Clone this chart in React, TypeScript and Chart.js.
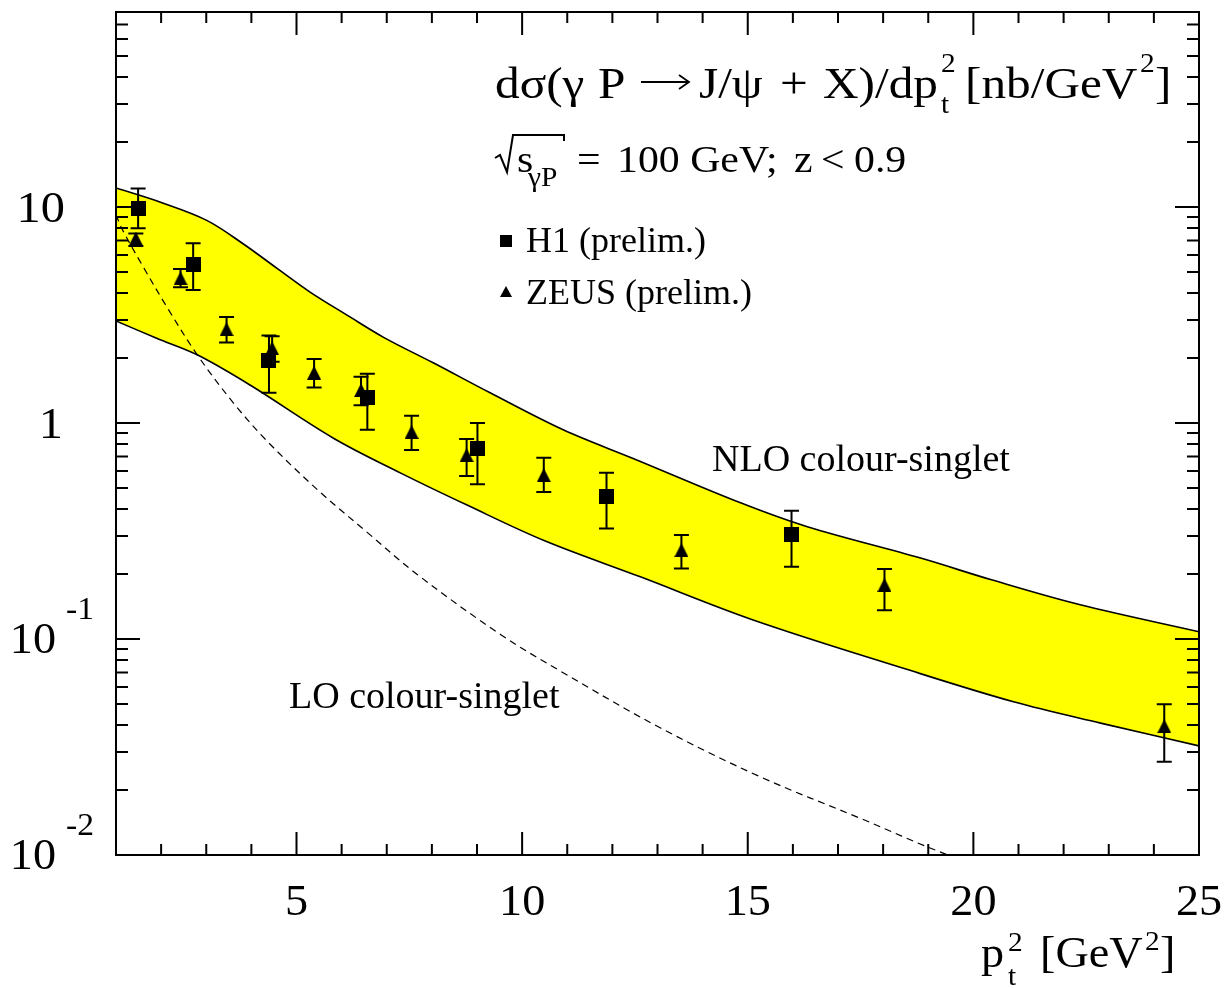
import React, { useEffect, useRef } from 'react';
import { Chart, registerables } from 'chart.js';

Chart.register(...registerables);

// NLO colour-singlet band (upper / lower edge)
const nloUpperX = [1, 2, 3, 3.8, 4.57, 5.3, 6.12, 6.92, 8.03, 9.29, 10.91, 12.5, 14.84, 16.32, 18.83, 20.4, 22.37, 25];
const nloUpperY = [12.25, 10.5, 8.7, 6.8, 5.2, 4.04, 3.16, 2.5, 1.9, 1.38, 0.93, 0.68, 0.427, 0.331, 0.237, 0.188, 0.144, 0.108];
const nloLowerX = [1, 1.9, 2.8, 3.97, 5.81, 7.3, 8.78, 10.5, 12.62, 15.12, 18.43, 20.89, 22.82, 25];
const nloLowerY = [2.97, 2.47, 2.07, 1.5, 0.853, 0.588, 0.417, 0.285, 0.194, 0.1225, 0.0734, 0.0512, 0.0408, 0.032];

// LO colour-singlet (dashed)
const loX = [1.0, 1.15, 1.6, 2.13, 2.8, 3.6, 4.36, 5.47, 6.58, 7.69, 9.52, 10.85, 13.07, 15.28, 17.49, 19.33, 20.5];
const loY = [9.2, 7.8, 5.3, 3.44, 2.07, 1.24, 0.82, 0.49, 0.31, 0.198, 0.105, 0.071, 0.0387, 0.023, 0.0148, 0.0102, 0.0085];

// H1 (prelim.)
const h1X = [1.49, 2.71, 4.39, 6.57, 9.01, 11.87, 15.97];
const h1Y = [9.84, 5.42, 1.94, 1.31, 0.764, 0.457, 0.306];
const h1Hi = [12.2, 6.79, 2.54, 1.69, 1.0, 0.589, 0.393];
const h1Lo = [7.97, 4.13, 1.38, 0.93, 0.52, 0.325, 0.216];

// ZEUS (prelim.)
const zeusX = [1.44, 2.43, 3.45, 4.46, 5.39, 6.43, 7.55, 8.77, 10.48, 13.53, 18.03, 24.23];
const zeusY = [7.15, 4.68, 2.72, 2.22, 1.71, 1.42, 0.91, 0.711, 0.574, 0.258, 0.178, 0.0395];
const zeusHi = [7.55, 5.16, 3.1, 2.52, 1.98, 1.64, 1.08, 0.843, 0.69, 0.303, 0.211, 0.0499];
const zeusLo = [6.6, 4.25, 2.36, 1.92, 1.46, 1.21, 0.75, 0.569, 0.48, 0.212, 0.136, 0.027];

// axis ticks
const xTickValues = [5, 10, 15, 20, 25];
const xTickLabels = ['5', '10', '15', '20', '25'];
const yTickValues = [10, 1, 0.1, 0.01];
const yTickBase = ['10', '1', '10', '10'];
const yTickExp = ['', '', '-1', '-2'];

const FONT = '"Liberation Serif", "Times New Roman", serif';

function drawText(
  ctx: CanvasRenderingContext2D,
  t: string,
  x: number,
  y: number,
  size: number,
  sx = 1,
  align: CanvasTextAlign = 'left'
) {
  ctx.save();
  ctx.font = `${size}px ${FONT}`;
  ctx.fillStyle = '#000';
  ctx.textBaseline = 'alphabetic';
  ctx.translate(x, y);
  ctx.scale(sx, 1);
  ctx.textAlign = align;
  ctx.fillText(t, 0, 0);
  ctx.restore();
}

function makeMarker(kind: 'square' | 'triangle', w: number, h: number) {
  const c = document.createElement('canvas');
  c.width = w;
  c.height = h;
  const g = c.getContext('2d')!;
  g.fillStyle = '#000';
  if (kind === 'square') {
    g.fillRect(0, 0, w, h);
  } else {
    g.beginPath();
    g.moveTo(w / 2, 0);
    g.lineTo(w, h);
    g.lineTo(0, h);
    g.closePath();
    g.fill();
  }
  return c;
}

const toXY = (xs: number[], ys: number[]) => xs.map((x, i) => ({ x, y: ys[i] }));

const decorPlugin = {
  id: 'decor',
  afterDatasetsDraw(chart: any) {
    const ctx: CanvasRenderingContext2D = chart.ctx;
    const xs = chart.scales.x;
    const ys = chart.scales.y;
    ctx.save();
    ctx.strokeStyle = '#000';
    ctx.lineWidth = 2;
    const bars = (X: number[], H: number[], L: number[]) => {
      X.forEach((x, i) => {
        const px = xs.getPixelForValue(x);
        const pHi = ys.getPixelForValue(H[i]);
        const pLo = ys.getPixelForValue(L[i]);
        ctx.beginPath();
        ctx.moveTo(px, pHi);
        ctx.lineTo(px, pLo);
        ctx.moveTo(px - 7.5, pHi);
        ctx.lineTo(px + 7.5, pHi);
        ctx.moveTo(px - 7.5, pLo);
        ctx.lineTo(px + 7.5, pLo);
        ctx.stroke();
      });
    };
    bars(h1X, h1Hi, h1Lo);
    bars(zeusX, zeusHi, zeusLo);
    ctx.restore();
  },
  afterDraw(chart: any) {
    const ctx: CanvasRenderingContext2D = chart.ctx;
    const { left, right, top, bottom } = chart.chartArea;
    const xs = chart.scales.x;
    const ys = chart.scales.y;
    ctx.save();
    ctx.strokeStyle = '#000';
    ctx.lineWidth = 2;
    ctx.strokeRect(left, top, right - left, bottom - top);

    // x ticks (inward, bottom and top)
    ctx.beginPath();
    for (let v = 2; v <= 24; v++) {
      const px = xs.getPixelForValue(v);
      const len = v % 5 === 0 ? 23 : 11;
      ctx.moveTo(px, bottom);
      ctx.lineTo(px, bottom - len);
      ctx.moveTo(px, top);
      ctx.lineTo(px, top + len);
    }
    // y ticks (log, inward, left and right)
    for (let d = 0.01; d < 100; d *= 10) {
      for (let m = 1; m <= 9; m++) {
        const v = d * m;
        if (v < 0.0099 || v > 80.1) continue;
        const py = ys.getPixelForValue(v);
        const len = m === 1 ? 24 : 12;
        ctx.moveTo(left, py);
        ctx.lineTo(left + len, py);
        ctx.moveTo(right, py);
        ctx.lineTo(right - len, py);
      }
    }
    ctx.stroke();
    ctx.restore();

    // x tick labels
    xTickValues.forEach((v, i) => {
      drawText(ctx, xTickLabels[i], xs.getPixelForValue(v), 915, 44, 1.05, 'center');
    });
    // y tick labels
    yTickValues.forEach((v, i) => {
      const py = ys.getPixelForValue(v);
      if (yTickExp[i]) {
        drawText(ctx, yTickBase[i], 56, py + 14, 44, 1.05, 'right');
        drawText(ctx, yTickExp[i], 66, py - 20, 32, 1.05, 'left');
      } else {
        drawText(ctx, yTickBase[i], yTickBase[i].length > 1 ? 65 : 63, py + 15, 44, 1.1, 'right');
      }
    });

    // x axis title: p_t^2 [GeV^2]
    drawText(ctx, 'p', 981, 967, 44, 1.05);
    drawText(ctx, 't', 1008, 985, 28, 1.05);
    drawText(ctx, '2', 1008, 951, 28, 1.05);
    drawText(ctx, '[GeV', 1040, 967, 44, 1.05);
    drawText(ctx, '2', 1145, 950, 28, 1.05);
    drawText(ctx, ']', 1160, 967, 44, 1.05);

    // title
    const tsx = 1.12;
    drawText(ctx, 'dσ(γ', 495, 98, 44, tsx);
    drawText(ctx, 'P', 598, 98, 44, tsx);
    ctx.save();
    ctx.strokeStyle = '#000';
    ctx.lineWidth = 1.8;
    ctx.beginPath();
    ctx.moveTo(641, 82);
    ctx.lineTo(688, 82);
    ctx.moveTo(679, 75);
    ctx.lineTo(689, 82);
    ctx.lineTo(679, 89);
    ctx.stroke();
    ctx.restore();
    drawText(ctx, 'J/ψ', 699, 98, 44, tsx);
    drawText(ctx, '+', 780, 98, 44, tsx);
    drawText(ctx, 'X)/dp', 823, 98, 44, tsx);
    drawText(ctx, 't', 941, 113, 28, 1.05);
    drawText(ctx, '2', 941, 72, 28, 1.05);
    drawText(ctx, '[nb/GeV', 965, 98, 44, tsx);
    drawText(ctx, '2', 1140, 72, 28, 1.05);
    drawText(ctx, ']', 1155, 98, 44, tsx);

    // second line: sqrt(s_γP) = 100 GeV;  z < 0.9
    ctx.save();
    ctx.strokeStyle = '#000';
    ctx.lineWidth = 2;
    ctx.beginPath();
    ctx.moveTo(495, 158);
    ctx.lineTo(500, 155);
    ctx.lineTo(507, 172);
    ctx.lineTo(513, 135);
    ctx.lineTo(564, 135);
    ctx.lineTo(564, 141);
    ctx.stroke();
    ctx.restore();
    drawText(ctx, 's', 517, 172, 38, 1.1);
    drawText(ctx, 'γP', 528, 186, 28, 1.05);
    drawText(ctx, '=', 577, 172, 38, 1.1);
    drawText(ctx, '100 GeV;', 617, 172, 38, 1.1);
    drawText(ctx, 'z', 794, 172, 38, 1.1);
    drawText(ctx, '<', 821, 172, 38, 1.1);
    drawText(ctx, '0.9', 854, 172, 38, 1.1);

    // legend
    ctx.save();
    ctx.fillStyle = '#000';
    ctx.fillRect(500, 235, 12, 12);
    ctx.beginPath();
    ctx.moveTo(506, 286);
    ctx.lineTo(512, 297);
    ctx.lineTo(500, 297);
    ctx.closePath();
    ctx.fill();
    ctx.restore();
    drawText(ctx, 'H1 (prelim.)', 526, 252, 36, 1.0);
    drawText(ctx, 'ZEUS (prelim.)', 526, 304, 36, 1.0);

    // curve labels
    drawText(ctx, 'NLO colour-singlet', 712, 471, 38, 1.0);
    drawText(ctx, 'LO colour-singlet', 289, 708, 38, 1.0);
  },
};

export default function App() {
  const ref = useRef<HTMLCanvasElement | null>(null);
  useEffect(() => {
    const canvas = ref.current;
    if (!canvas) return;
    const sq = makeMarker('square', 15, 15);
    const tri = makeMarker('triangle', 14, 14);
    const chart = new Chart(canvas, {
      type: 'line',
      data: {
        datasets: [
          {
            label: 'H1 (prelim.)',
            data: toXY(h1X, h1Y),
            showLine: false,
            pointStyle: sq as any,
            pointRadius: 8,
            borderColor: '#000',
            backgroundColor: '#000',
          },
          {
            label: 'ZEUS (prelim.)',
            data: toXY(zeusX, zeusY),
            showLine: false,
            pointStyle: tri as any,
            pointRadius: 8,
            borderColor: '#000',
            backgroundColor: '#000',
          },
          {
            label: 'LO colour-singlet',
            data: toXY(loX, loY),
            borderColor: '#000',
            borderWidth: 1.2,
            borderDash: [7, 5],
            pointRadius: 0,
            fill: false,
            tension: 0.35,
          },
          {
            label: 'NLO upper',
            data: toXY(nloUpperX, nloUpperY),
            borderColor: '#000',
            borderWidth: 1.6,
            pointRadius: 0,
            fill: '+1',
            backgroundColor: '#ffff00',
            tension: 0.35,
          },
          {
            label: 'NLO lower',
            data: toXY(nloLowerX, nloLowerY),
            borderColor: '#000',
            borderWidth: 1.6,
            pointRadius: 0,
            fill: false,
            tension: 0.35,
          },
        ],
      },
      options: {
        responsive: false,
        animation: false,
        devicePixelRatio: 1,
        events: [],
        layout: { padding: { left: 116, top: 12, right: 27, bottom: 133 } },
        plugins: {
          legend: { display: false },
          tooltip: { enabled: false },
          title: { display: false },
          filler: { drawTime: 'beforeDatasetsDraw' },
        } as any,
        scales: {
          x: { type: 'linear', min: 1, max: 25, display: false },
          y: { type: 'logarithmic', min: 0.01, max: 80, display: false },
        },
      },
      plugins: [decorPlugin],
    });
    return () => chart.destroy();
  }, []);
  return (
    <div style={{ position: 'absolute', left: 0, top: 0, width: 1226, height: 988, background: '#fff' }}>
      <canvas ref={ref} width={1226} height={988} style={{ display: 'block', width: 1226, height: 988 }} />
    </div>
  );
}
